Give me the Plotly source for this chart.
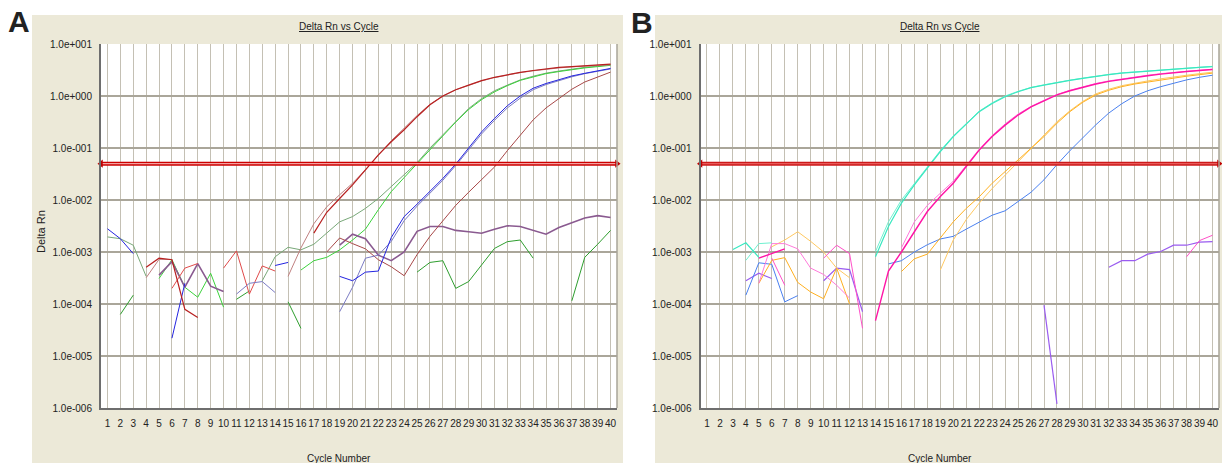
import plotly.graph_objects as go

N = None
cycles = list(range(1, 41))
y_tickvals = [1e-6, 1e-5, 1e-4, 1e-3, 1e-2, 1e-1, 1e0, 1e1]
y_ticktext = ["1.0e-006", "1.0e-005", "1.0e-004", "1.0e-003", "1.0e-002", "1.0e-001", "1.0e+000", "1.0e+001"]
threshold_A = 0.05
threshold_B = 0.05

# ---------------- Panel A (Delta Rn by cycle 1..40) ----------------
A_blue = [2.8e-3, 1.8e-3, 9.3e-4, N, N, 2.2e-5, 2.5e-4, N, N, N,
          N, N, N, 5.5e-4, 6.3e-4, N, N, N, 3.4e-4, 2.8e-4,
          4.1e-4, 4.3e-4, 1.9e-3, 4.8e-3, 8.3e-3, 1.45e-2, 2.6e-2, 4.9e-2, 0.102, 0.204,
          0.37, 0.65, 1.0, 1.41, 1.74, 2.09, 2.43, 2.73, 3.07, 3.39]
A_slate = [N, N, N, N, N, N, N, N, N, N,
           1.55e-4, 2.5e-4, 2.7e-4, 1.66e-4, N, N, N, N, 7.1e-5, 2.1e-4,
           7.6e-4, 8.7e-4, 1.6e-3, 4.0e-3, 7.6e-3, 1.35e-2, 2.4e-2, 4.6e-2, 9.3e-2, 0.186,
           0.34, 0.59, 0.91, 1.32, 1.66, 2.0, 2.34, 2.69, 3.02, 3.31]
A_red = [N, N, N, 5.1e-4, 7.6e-4, 7.1e-4, 7.9e-5, 5.5e-5, N, N,
         N, N, N, N, N, N, 2.3e-3, 5.8e-3, 1.07e-2, 1.95e-2,
         3.8e-2, 7.4e-2, 0.132, 0.224, 0.40, 0.68, 1.0, 1.32, 1.62, 1.97,
         2.29, 2.57, 2.85, 3.09, 3.31, 3.55, 3.66, 3.8, 3.98, 4.12]
A_rosy = [N, N, N, 3.2e-4, 7.2e-4, 7.2e-4, N, N, N, N,
          N, N, N, N, 3.4e-4, 1.2e-3, 3.5e-3, 7.4e-3, 1.26e-2, 2.1e-2,
          3.8e-2, 7.4e-2, 0.138, 0.24, 0.42, 0.69, 1.0, 1.32, 1.62, 1.95,
          2.26, 2.54, 2.82, 3.05, 3.27, 3.47, 3.63, 3.76, 3.89, 3.98]
A_red2 = [N, N, N, N, N, 2.0e-4, 4.9e-4, 6.0e-4, N, 4.9e-4,
          1.05e-3, 1.55e-4, 5.4e-4, 4.3e-4, N, N, N, N, N, N,
          N, N, N, N, N, N, N, N, N, N,
          N, N, N, N, N, N, N, N, N, N]
A_brown = [N, N, N, N, N, N, N, N, N, N,
           N, N, N, N, N, N, N, 1.0e-3, 1.86e-3, 1.45e-3,
           1.15e-3, 7.1e-4, 5.2e-4, 3.5e-4, 8.9e-4, 2.0e-3, 4.0e-3, 7.9e-3, 1.41e-2, 2.5e-2,
           4.3e-2, 8.9e-2, 0.178, 0.347, 0.59, 0.91, 1.35, 1.86, 2.34, 2.88]
A_green = [N, N, N, N, 3.1e-4, 7.1e-4, 2.1e-4, 1.35e-4, 3.9e-4, 8.7e-5,
           N, N, N, N, N, 4.5e-4, 6.8e-4, 7.9e-4, 1.1e-3, 1.7e-3,
           2.75e-3, 6.5e-3, 1.45e-2, 2.7e-2, 5.0e-2, 9.3e-2, 0.174, 0.316, 0.55, 0.85,
           1.2, 1.58, 2.0, 2.34, 2.69, 2.95, 3.24, 3.47, 3.67, 3.89]
A_ggreen = [1.95e-3, 1.8e-3, 1.35e-3, 3.4e-4, N, N, N, N, N, N,
            N, N, 2.8e-4, 8.1e-4, 1.23e-3, 1.1e-3, 1.41e-3, 2.3e-3, 3.8e-3, 4.8e-3,
            6.9e-3, 1.07e-2, 1.8e-2, 3.0e-2, 5.2e-2, 0.1, 0.182, 0.33, 0.575, 0.89,
            1.26, 1.62, 2.04, 2.4, 2.75, 3.02, 3.31, 3.55, 3.76, 3.98]
A_dgreen = [N, 6.3e-5, 1.48e-4, N, N, N, N, N, N, N,
            1.23e-4, 1.78e-4, N, N, 1.1e-4, 3.4e-5, N, N, N, N,
            N, N, N, N, 4.1e-4, 6.3e-4, 6.8e-4, 2.0e-4, 2.7e-4, 5.6e-4,
            1.17e-3, 1.58e-3, 1.7e-3, 7.6e-4, N, N, 1.15e-4, 7.9e-4, 1.41e-3, 2.6e-3]
A_purple = [N, N, N, N, 3.6e-4, 6.5e-4, 2.1e-4, 6.0e-4, 2.2e-4, 1.74e-4,
            N, N, N, N, N, N, N, N, 1.35e-3, 2.2e-3,
            1.8e-3, 8.7e-4, 6.8e-4, 1.0e-3, 2.5e-3, 3.1e-3, 3.1e-3, 2.6e-3, 2.45e-3, 2.3e-3,
            2.75e-3, 3.2e-3, 3.1e-3, 2.6e-3, 2.2e-3, 2.95e-3, 3.7e-3, 4.5e-3, 5.0e-3, 4.6e-3]

# ---------------- Panel B ----------------
B_teal1 = [N, N, 1.12e-3, 1.5e-3, 7.9e-4, N, N, N, N, N,
           N, N, N, 8.1e-4, 3.1e-3, 8.7e-3, 1.95e-2, 4.1e-2, 8.5e-2, 0.166,
           0.295, 0.5, 0.72, 0.97, 1.21, 1.45, 1.62, 1.82, 2.0, 2.19,
           2.4, 2.57, 2.75, 2.88, 3.02, 3.16, 3.31, 3.43, 3.55, 3.67]
B_teal2 = [N, N, N, 6.9e-4, 1.45e-3, 1.5e-3, N, N, N, N,
           N, N, N, 1.02e-3, 3.8e-3, 1.0e-2, 2.1e-2, 4.4e-2, 8.9e-2, 0.17,
           0.3, 0.51, 0.74, 1.0, 1.23, 1.46, 1.64, 1.84, 2.02, 2.21,
           2.43, 2.6, 2.79, 2.92, 3.05, 3.2, 3.35, 3.47, 3.59, 3.72]
B_mag1 = [N, N, N, N, 7.6e-4, 9.3e-4, 1.15e-3, N, N, N,
          N, N, N, 4.8e-5, 4.3e-4, 1.0e-3, 2.5e-3, 6.0e-3, 1.17e-2, 2.1e-2,
          4.4e-2, 9.1e-2, 0.166, 0.275, 0.43, 0.62, 0.81, 1.05, 1.26, 1.48,
          1.7, 1.91, 2.09, 2.29, 2.45, 2.63, 2.82, 2.95, 3.09, 3.24]
B_mag2 = [N, N, N, N, 2.5e-4, 1.45e-3, 1.45e-3, 1.15e-3, 4.9e-4, 3.7e-4,
          2.3e-4, 1.3e-4, N, N, N, 1.2e-3, 3.8e-3, 7.9e-3, 1.35e-2, 2.3e-2,
          4.6e-2, 9.5e-2, 0.174, 0.29, 0.45, 0.63, 0.83, 1.07, 1.29, 1.51,
          1.74, 1.95, 2.14, 2.34, 2.51, 2.69, 2.85, 2.99, 3.13, 3.27]
B_mag3 = [N, N, N, N, N, 7.6e-4, 2.3e-4, N, N, 7.6e-4,
          1.35e-3, 9.3e-4, 3.4e-5, N, N, N, N, N, N, N,
          N, N, N, N, N, N, N, N, N, N,
          N, N, N, N, N, N, N, 8.1e-4, 1.66e-3, 2.1e-3]
B_orange1 = [N, N, N, N, 2.5e-4, 6.9e-4, 7.8e-4, 2.6e-4, 1.7e-4, 1.26e-4,
             4.9e-4, 1.0e-4, N, N, N, 4.2e-4, 7.4e-4, 9.1e-4, 1.9e-3, 3.8e-3,
             6.9e-3, 1.15e-2, 2.1e-2, 3.5e-2, 5.9e-2, 9.8e-2, 0.166, 0.3, 0.5, 0.76,
             1.05, 1.29, 1.51, 1.7, 1.86, 2.04, 2.24, 2.4, 2.57, 2.75]
B_orange2 = [N, N, N, N, N, 1.26e-3, 1.7e-3, 2.45e-3, 1.6e-3, 1.0e-3,
             4.9e-4, 3.2e-4, N, N, N, N, N, N, 4.5e-4, 1.7e-3,
             4.2e-3, 8.7e-3, 1.66e-2, 3.0e-2, 5.5e-2, 0.1, 0.174, 0.32, 0.52, 0.79,
             1.1, 1.35, 1.58, 1.78, 1.95, 2.14, 2.34, 2.51, 2.69, 2.88]
B_blue = [N, N, N, 1.48e-4, 6.2e-4, 5.8e-4, 1.1e-4, 1.45e-4, N, N,
          N, N, N, N, 5.9e-4, 6.8e-4, 1.0e-3, 1.38e-3, 1.78e-3, 2.0e-3,
          2.75e-3, 3.7e-3, 5.1e-3, 6.2e-3, 9.3e-3, 1.41e-2, 2.45e-2, 4.8e-2, 8.9e-2, 0.158,
          0.28, 0.47, 0.71, 1.0, 1.26, 1.51, 1.78, 2.04, 2.29, 2.51]
B_purple = [N, N, N, 2.8e-4, 3.9e-4, 3.1e-4, N, N, N, 2.8e-4,
            4.9e-4, 4.6e-4, 7.1e-5, N, N, N, N, N, N, N,
            N, N, N, N, N, N, 9.5e-5, 1.2e-6, N, N,
            N, 5.1e-4, 6.8e-4, 6.8e-4, 9.1e-4, 1.02e-3, 1.35e-3, 1.35e-3, 1.55e-3, 1.58e-3]

series_A = [
    (A_dgreen, "#2e9e2e", 1), (A_ggreen, "#78a878", 1), (A_green, "#3cd23c", 1),
    (A_purple, "#8a5a90", 1.6), (A_red2, "#e04a4a", 1), (A_brown, "#a84848", 1),
    (A_slate, "#7c7cc4", 1), (A_blue, "#2424e0", 1), (A_rosy, "#c08080", 1),
    (A_red, "#b82020", 1.2),
]
series_B = [
    (B_purple, "#9a5cf0", 1.2), (B_blue, "#4a80f0", 1), (B_orange2, "#ffc860", 1),
    (B_orange1, "#ffb020", 1), (B_mag3, "#ff50c8", 1), (B_mag2, "#ff7ada", 1),
    (B_mag1, "#ff14a6", 1.4), (B_teal2, "#70f0d0", 1), (B_teal1, "#38e8c0", 1.2),
]

W, H = 1222, 463
def px(x):
    return x / W
def py(y):
    return 1 - y / H

fig = go.Figure()
for vals, col, w in series_A:
    fig.add_trace(go.Scatter(x=cycles, y=vals, mode="lines", line=dict(color=col, width=w),
                             connectgaps=False, xaxis="x", yaxis="y", hoverinfo="skip", showlegend=False))
for vals, col, w in series_B:
    fig.add_trace(go.Scatter(x=cycles, y=vals, mode="lines", line=dict(color=col, width=w),
                             connectgaps=False, xaxis="x2", yaxis="y2", hoverinfo="skip", showlegend=False))

x_lo, x_hi = 0.5, 40.5
for xa, ya, thr, c_out, c_in in [("x", "y", threshold_A, "#cc0000", "#f4a0a0"),
                                 ("x2", "y2", threshold_B, "#cc1a1a", "#e85a5a")]:
    fig.add_trace(go.Scatter(x=[x_lo, x_hi], y=[thr, thr], mode="lines", line=dict(color=c_out, width=4),
                             xaxis=xa, yaxis=ya, hoverinfo="skip", showlegend=False, cliponaxis=False))
    fig.add_trace(go.Scatter(x=[x_lo, x_hi], y=[thr, thr], mode="lines", line=dict(color=c_in, width=1.2),
                             xaxis=xa, yaxis=ya, hoverinfo="skip", showlegend=False, cliponaxis=False))
    fig.add_trace(go.Scatter(x=[x_lo, x_hi], y=[thr, thr], mode="markers",
                             marker=dict(symbol=["triangle-left", "triangle-right"], size=7, color="#c00000"),
                             xaxis=xa, yaxis=ya, hoverinfo="skip", showlegend=False, cliponaxis=False))

sans = "Liberation Sans, Arial, sans-serif"
tick_font = dict(family=sans, size=10, color="#222222")

def xax(domain):
    return dict(domain=domain, range=[x_lo, x_hi], tickmode="array", tickvals=cycles,
                ticktext=[str(c) for c in cycles], showgrid=True, gridcolor="#c4c0b4", gridwidth=1,
                showline=True, linecolor="#6e6e6e", linewidth=2, zeroline=False, ticks="",
                tickangle=0, automargin=False,
                ticklabelstandoff=5, tickfont=tick_font, fixedrange=True)

def yax(domain, anchor):
    return dict(domain=domain, type="log", range=[-6, 1], tickmode="array", tickvals=y_tickvals,
                ticktext=y_ticktext, showgrid=True, gridcolor="#aaa69a", gridwidth=1.5,
                showline=True, linecolor="#6e6e6e", linewidth=2, zeroline=False, ticks="",
                automargin=False,
                ticklabelstandoff=5, tickfont=tick_font, anchor=anchor, fixedrange=True)

def label(text, x, y, size=10, angle=0, family=sans):
    return dict(text=text, x=px(x), y=py(y), xref="paper", yref="paper", showarrow=False,
                xanchor="center", yanchor="middle", textangle=angle,
                font=dict(family=family, size=size, color="#222222"))

ydom = [py(408), py(44)]
fig.update_layout(
    width=W, height=H, margin=dict(l=0, r=0, t=0, b=0, autoexpand=False),
    paper_bgcolor="white", plot_bgcolor="white",
    xaxis=xax([px(101), px(617)]) | dict(anchor="y"),
    yaxis=yax(ydom, "x"),
    xaxis2=xax([px(700.5), px(1219)]) | dict(anchor="y2"),
    yaxis2=yax(ydom, "x2"),
    shapes=[
        dict(type="rect", xref="paper", yref="paper", x0=px(32), x1=px(623), y0=0, y1=py(15),
             fillcolor="#ece9d8", line=dict(width=0), layer="below"),
        dict(type="rect", xref="paper", yref="paper", x0=px(655), x1=1, y0=0, y1=py(15),
             fillcolor="#ece9d8", line=dict(width=0), layer="below"),
        dict(type="rect", xref="x domain", yref="y domain", x0=0, x1=1, y0=0, y1=1,
             fillcolor="white", line=dict(width=0), layer="below"),
        dict(type="rect", xref="x2 domain", yref="y2 domain", x0=0, x1=1, y0=0, y1=1,
             fillcolor="white", line=dict(width=0), layer="below"),
        dict(type="line", xref="x domain", yref="y domain", x0=1, x1=1, y0=0, y1=1,
             line=dict(color="#a8a498", width=1.5)),
        dict(type="line", xref="x2 domain", yref="y2 domain", x0=1, x1=1, y0=0, y1=1,
             line=dict(color="#a8a498", width=1.5)),
    ],
    annotations=[
        label("<b>A</b>", 19, 21, size=30),
        label("<b>B</b>", 642, 23, size=30),
        label("<u>Delta Rn vs Cycle</u>", 339, 26),
        label("<u>Delta Rn vs Cycle</u>", 940, 26),
        label("Cycle Number", 339, 458),
        label("Cycle Number", 940, 458),
        label("Delta Rn", 41, 232, size=11, angle=-90),
    ],
)

fig.write_html("out.html", config={"displayModeBar": False},
               post_script="document.body.style.margin='0px';document.body.style.overflow='hidden';")
